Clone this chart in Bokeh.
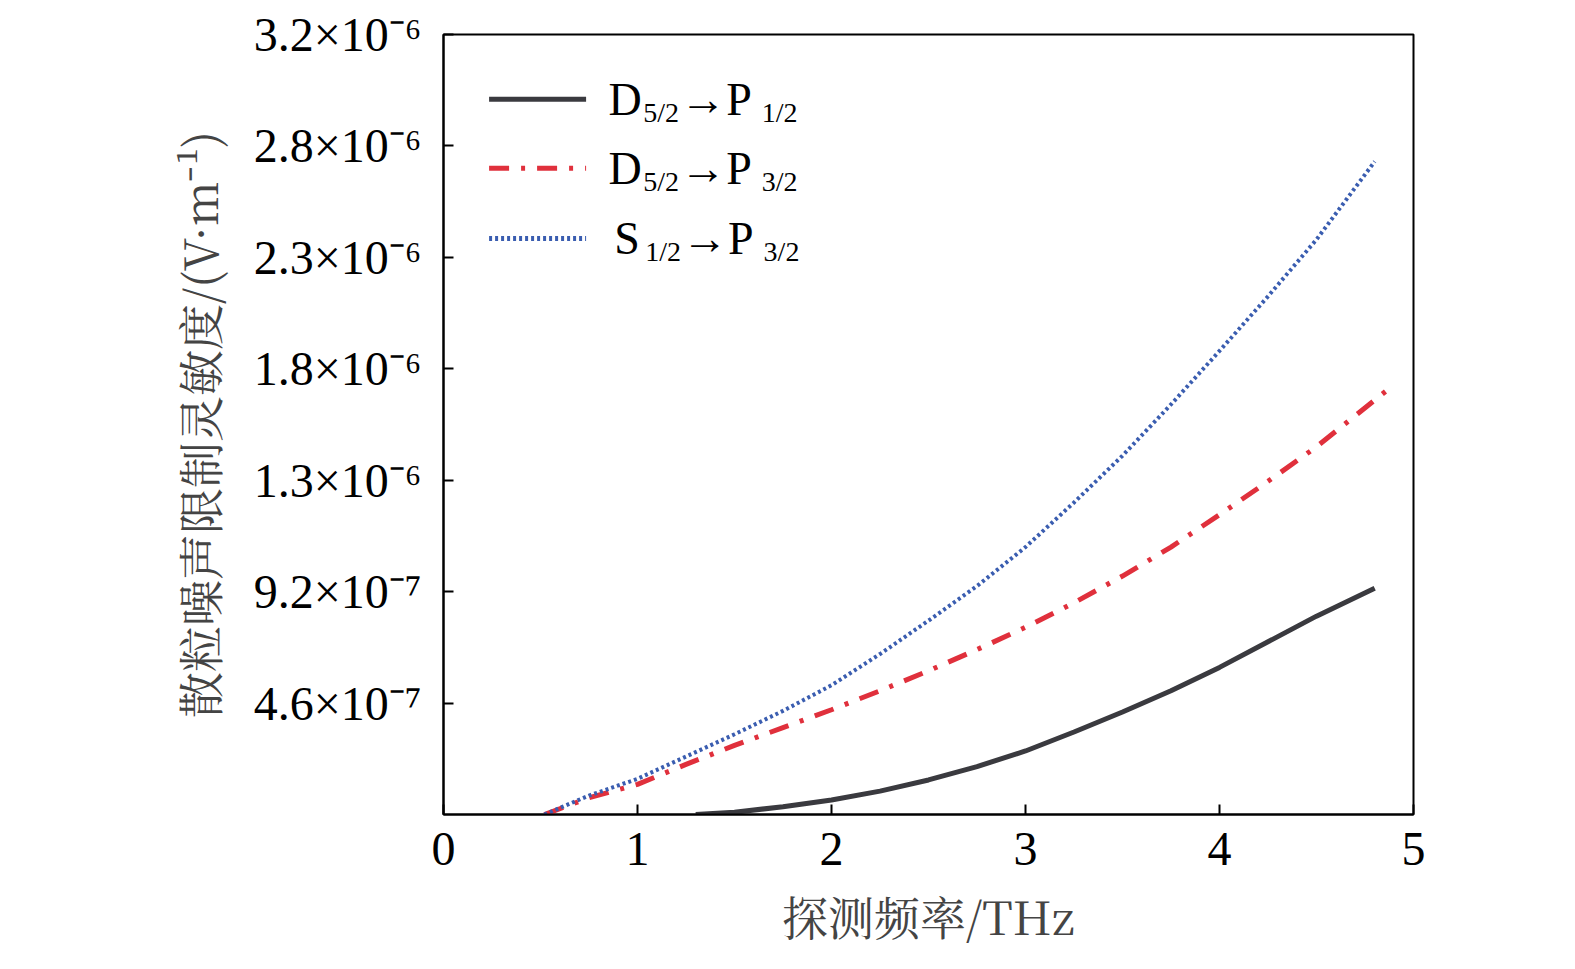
from bokeh.plotting import figure
from bokeh.models import FixedTicker, Range1d
from bokeh.core.properties import value
from bokeh.embed import file_html
from bokeh.resources import INLINE

# y values in tick-grid units (tick k at k, labels below)
ytick_pos = [1, 2, 3, 4, 5, 6, 7]
ytick_labels = ["4.6×10⁻⁷", "9.2×10⁻⁷", "1.3×10⁻⁶", "1.8×10⁻⁶", "2.3×10⁻⁶", "2.8×10⁻⁶", "3.2×10⁻⁶"]

x_black = [1.3, 1.5, 1.75, 2.0, 2.25, 2.5, 2.75, 3.0, 3.25, 3.5, 3.75, 4.0, 4.25, 4.5, 4.8]
y_black = [0.0, 0.02, 0.07, 0.13, 0.21, 0.31, 0.43, 0.57, 0.74, 0.92, 1.11, 1.32, 1.55, 1.78, 2.03]
x_red = [0.52, 0.75, 1.0, 1.25, 1.5, 1.75, 2.0, 2.25, 2.5, 2.75, 3.0, 3.25, 3.5, 3.75, 4.0, 4.25, 4.5, 4.88]
y_red = [0.0, 0.15, 0.27, 0.45, 0.62, 0.78, 0.94, 1.11, 1.29, 1.48, 1.68, 1.9, 2.14, 2.4, 2.69, 2.99, 3.3, 3.83]
x_blue = [0.52, 0.75, 1.0, 1.25, 1.5, 1.75, 2.0, 2.25, 2.5, 2.75, 3.0, 3.25, 3.5, 3.75, 4.0, 4.25, 4.5, 4.8]
y_blue = [0.0, 0.17, 0.32, 0.52, 0.72, 0.93, 1.16, 1.44, 1.74, 2.05, 2.4, 2.8, 3.22, 3.68, 4.16, 4.65, 5.16, 5.86]

SERIF = "Liberation Serif"
p = figure(width=1560, height=950, output_backend="svg", toolbar_location=None,
           x_range=Range1d(0, 5), y_range=Range1d(0, 7.0),
           min_border_left=443, min_border_right=147, min_border_top=34, min_border_bottom=136)
p.grid.visible = False
p.outline_line_color = "black"
p.outline_line_width = 2

p.line(x_black, y_black, line_color="#3a3a3f", line_width=5)
p.line(x_red, y_red, line_color="#e0303c", line_width=5, line_dash="20 12 4 12")
p.line(x_blue, y_blue, line_color="#3a5db0", line_width=4, line_dash="3 3")

for ax in (p.xaxis[0], p.yaxis[0]):
    ax.major_tick_in = 10
    ax.major_tick_out = 0
    ax.minor_tick_line_color = None
    ax.axis_line_width = 2
    ax.major_tick_line_width = 2
    ax.major_label_text_font = SERIF
    ax.major_label_text_font_size = "48px"
    ax.major_label_text_color = "black"
    ax.axis_label_text_font_style = "normal"
    ax.axis_label_text_font_size = "46px"
    ax.axis_label_text_font = "Noto Serif CJK SC, Noto Sans CJK SC"
p.xaxis.major_label_standoff = 18
p.xaxis.axis_label_standoff = 14
p.yaxis.major_label_standoff = 22
p.yaxis.axis_label_standoff = 20
p.xaxis.ticker = FixedTicker(ticks=[0, 1, 2, 3, 4, 5])
p.yaxis.ticker = FixedTicker(ticks=ytick_pos)
p.yaxis.major_label_overrides = {k: l for k, l in zip(ytick_pos, ytick_labels)}
p.xaxis.axis_label = "探测频率/THz"
p.yaxis.axis_label = "散粒噪声限制灵敏度/(V·m⁻¹)"

# legend
leg_y = [6.42, 5.80, 5.17]
leg_colors = ["#3a3a3f", "#e0303c", "#3a5db0"]
leg_dash = ["solid", "20 12 4 12", "3 3"]
leg_main1 = ["D", "D", "S"]
leg_sub1 = ["5/2", "5/2", "1/2"]
leg_sub2 = ["1/2", "3/2", "3/2"]
for i in range(3):
    p.line([0.235, 0.735], [leg_y[i], leg_y[i]], line_color=leg_colors[i], line_width=5, line_dash=leg_dash[i])
    x0 = 0.85 if i < 2 else 0.88
    p.text([x0], [leg_y[i]], text=[leg_main1[i]], text_font=value(SERIF), text_font_size="46px",
           text_baseline="middle", text_color="black")
    p.text([x0 + 0.18 - (0.02 if i == 2 else 0)], [leg_y[i] - 0.12], text=[leg_sub1[i]], text_font=value(SERIF),
           text_font_size="28px", text_baseline="middle", text_color="black")
    p.text([x0 + 0.37 - (0.02 if i == 2 else 0)], [leg_y[i]], text=["→P"], text_font=value(SERIF),
           text_font_size="46px", text_baseline="middle", text_color="black")
    p.text([x0 + 0.79 - (0.02 if i == 2 else 0)], [leg_y[i] - 0.12], text=[leg_sub2[i]], text_font=value(SERIF),
           text_font_size="28px", text_baseline="middle", text_color="black")

open("out.html", "w").write(file_html(p, INLINE))
